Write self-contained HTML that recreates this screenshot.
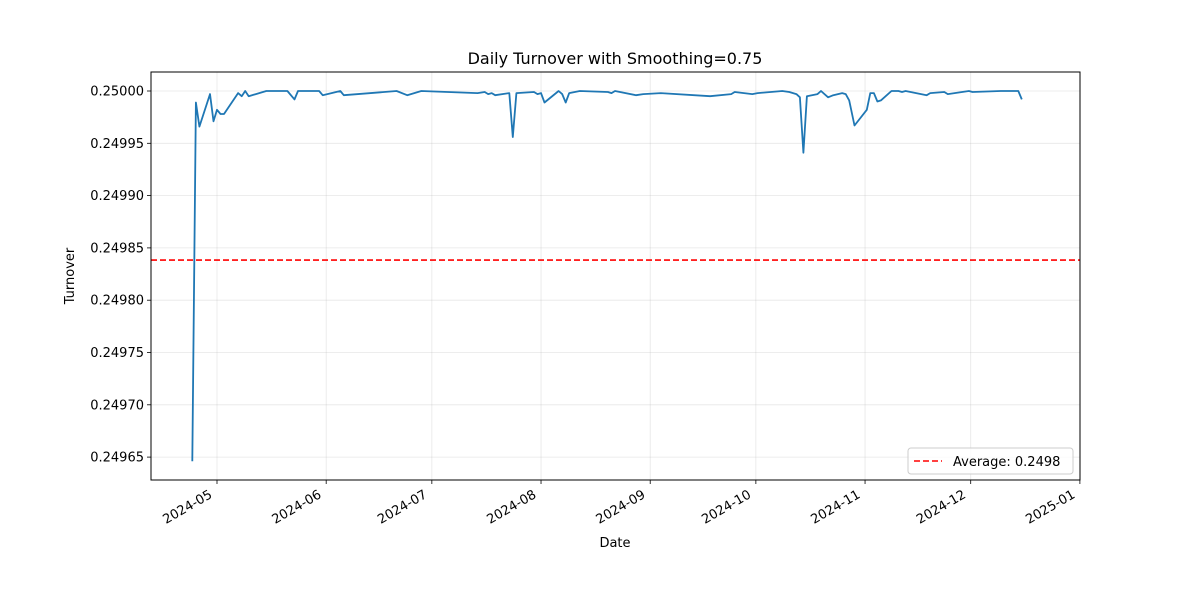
<!DOCTYPE html>
<html><head><meta charset="utf-8"><style>
body{margin:0;background:#fff;font-family:"Liberation Sans","DejaVu Sans",sans-serif}
svg text{font-family:"DejaVu Sans","Liberation Sans",sans-serif}
</style></head><body>
<svg id="chart" width="1200" height="600" xmlns="http://www.w3.org/2000/svg">
<rect width="1200" height="600" fill="#fff"/>
<text x="615" y="64" text-anchor="middle" font-size="16">Daily Turnover with Smoothing=0.75</text>
<g id="grid"></g><g id="series"></g><g id="axes"></g>
<text x="615" y="547" text-anchor="middle" font-size="13">Date</text>
<text transform="translate(74,276) rotate(-90)" text-anchor="middle" font-size="13">Turnover</text>
</svg>
<script>
const dates=["2024-04-24","2024-04-25","2024-04-26","2024-04-29","2024-04-30","2024-05-01","2024-05-02","2024-05-03","2024-05-07","2024-05-08","2024-05-09","2024-05-10","2024-05-15","2024-05-21","2024-05-23","2024-05-24","2024-05-30","2024-05-31","2024-06-05","2024-06-06","2024-06-21","2024-06-24","2024-06-28","2024-07-14","2024-07-16","2024-07-17","2024-07-18","2024-07-19","2024-07-23","2024-07-24","2024-07-25","2024-07-30","2024-07-31","2024-08-01","2024-08-02","2024-08-06","2024-08-07","2024-08-08","2024-08-09","2024-08-12","2024-08-20","2024-08-21","2024-08-22","2024-08-28","2024-08-30","2024-09-04","2024-09-18","2024-09-24","2024-09-25","2024-09-30","2024-10-01T12:00","2024-10-08T12:00","2024-10-10T12:00","2024-10-12T12:00","2024-10-13T12:00","2024-10-14T12:00","2024-10-15T12:00","2024-10-18T12:00","2024-10-19T12:00","2024-10-21T12:00","2024-10-23T00:00","2024-10-25T12:00","2024-10-26T12:00","2024-10-27T12:00","2024-10-29T00:00","2024-11-01T12:00","2024-11-02T12:00","2024-11-03T12:00","2024-11-04T12:00","2024-11-05T12:00","2024-11-08T12:00","2024-11-10T12:00","2024-11-11T12:00","2024-11-12T12:00","2024-11-18T12:00","2024-11-19T12:00","2024-11-23T12:00","2024-11-24T12:00","2024-11-30T12:00","2024-12-01T12:00","2024-12-09T12:00","2024-12-14T12:00","2024-12-15T12:00"];
const values=[0.249646,0.249989,0.249966,0.249997,0.249971,0.249982,0.249978,0.249978,0.249998,0.249995,0.250000,0.249995,0.250000,0.250000,0.249992,0.250000,0.250000,0.249996,0.250000,0.249996,0.250000,0.249996,0.250000,0.249998,0.249999,0.249997,0.249998,0.249996,0.249998,0.249956,0.249998,0.249999,0.249997,0.249998,0.249989,0.250000,0.249997,0.249989,0.249998,0.250000,0.249999,0.249998,0.250000,0.249996,0.249997,0.249998,0.249995,0.249997,0.249999,0.249997,0.249998,0.250000,0.249999,0.249997,0.249994,0.249941,0.249995,0.249997,0.250000,0.249994,0.249996,0.249998,0.249997,0.249991,0.249967,0.249982,0.249998,0.249998,0.249990,0.249991,0.250000,0.250000,0.249999,0.250000,0.249996,0.249998,0.249999,0.249997,0.250000,0.249999,0.250000,0.250000,0.249992];
const avgValue=0.2498384;
const avgLabel="Average: 0.2498";
const yTicks=[0.24965,0.24970,0.24975,0.24980,0.24985,0.24990,0.24995,0.25000];
const xTicks=["2024-05-01","2024-06-01","2024-07-01","2024-08-01","2024-09-01","2024-10-01","2024-11-01","2024-12-01","2025-01-01"];
const L=151,R=1080,T=72,B=480;
const NS="http://www.w3.org/2000/svg";
const d0=Date.UTC(2024,4,1),DAY=86400000;
const dayOf=s=>(Date.parse(s.length>10?s+":00Z":s+"T00:00:00Z")-d0)/DAY;
const X=s=>217+dayOf(s)*3.522;
const Y=v=>91+(0.25-v)/5e-5*52.3;
function mk(tag,attrs,parent){const e=document.createElementNS(NS,tag);for(const k in attrs)e.setAttribute(k,attrs[k]);parent.appendChild(e);return e;}
const grid=document.getElementById('grid'),axes=document.getElementById('axes'),series=document.getElementById('series');
yTicks.forEach(t=>{const y=Y(t);
 const g=mk('line',{x1:L,x2:R,y1:y,y2:y,stroke:'#b0b0b0','stroke-opacity':0.3,'stroke-width':0.8},grid);
 
 
 mk('line',{x1:L-4,x2:L,y1:y,y2:y,stroke:'#000','stroke-width':0.8},axes);
 const tx=mk('text',{x:L-7,y:y+4.5,'text-anchor':'end','font-size':13},axes);tx.textContent=t.toFixed(5);
 
 
});
xTicks.forEach(t=>{const x=X(t);
 const g=mk('line',{x1:x,x2:x,y1:T,y2:B,stroke:'#b0b0b0','stroke-opacity':0.3,'stroke-width':0.8},grid);
 
 
 mk('line',{x1:x,x2:x,y1:B,y2:B+4,stroke:'#000','stroke-width':0.8},axes);
 const tx=mk('text',{transform:`translate(${x-4},${B+17}) rotate(-30)`,'text-anchor':'end','font-size':13},axes);tx.textContent=t.slice(0,7);
 
 
});
const fr=mk('rect',{x:L,y:T,width:R-L,height:B-T,fill:'none',stroke:'#000','stroke-width':1},axes);


const line=mk('polyline',{points:dates.map((d,i)=>X(d).toFixed(1)+','+Y(values[i]).toFixed(1)).join(' '),fill:'none',stroke:'#1f77b4','stroke-width':1.8,'stroke-linejoin':'round'},series);


const ay=Y(avgValue);
const al=mk('line',{x1:L,x2:R,y1:ay,y2:ay,stroke:'#ff0000','stroke-width':1.6,'stroke-dasharray':'6,3'},series);


const lg=mk('g',{},axes);


mk('rect',{x:908,y:448,width:165,height:26,rx:3,fill:'#fff','fill-opacity':0.8,stroke:'#ccc'},lg);
mk('line',{x1:914,x2:942,y1:461,y2:461,stroke:'#ff0000','stroke-width':1.6,'stroke-dasharray':'6,3'},lg);
const lt=mk('text',{x:953,y:466,'font-size':13},lg);lt.textContent=avgLabel;


</script>
</body></html>
